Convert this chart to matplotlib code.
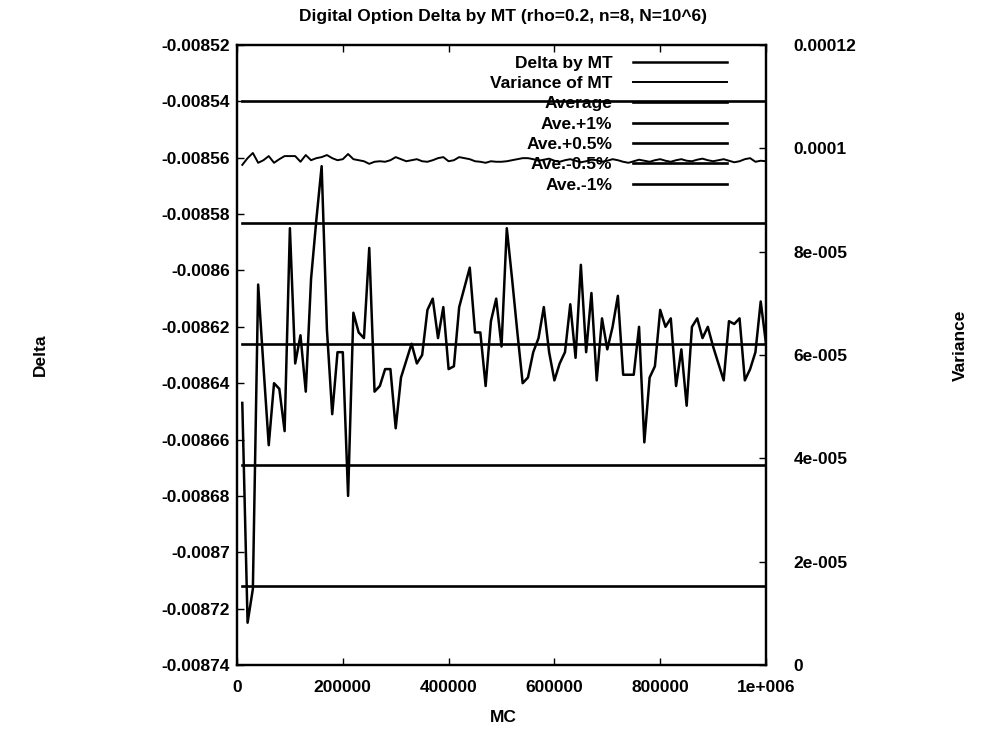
import numpy as np
import matplotlib
matplotlib.use('Agg')
import matplotlib.pyplot as plt

plt.rcParams['font.family'] = ['Liberation Sans', 'DejaVu Sans']
plt.rcParams['font.weight'] = 'bold'

# MC sample counts (every 10000 paths)
mc = np.arange(1, 101) * 10000

# Delta estimate
delta = [
    -0.008647, -0.008725, -0.008713, -0.008605, -0.008634, -0.008662, -0.008640, -0.008642, -0.008657, -0.008585,
    -0.008633, -0.008623, -0.008643, -0.008603, -0.008582, -0.008563, -0.008621, -0.008651, -0.008629, -0.008629,
    -0.008680, -0.008615, -0.008622, -0.008624, -0.008592, -0.008643, -0.008641, -0.008635, -0.008635, -0.008656,
    -0.008638, -0.008632, -0.008626, -0.008633, -0.008630, -0.008614, -0.008610, -0.008624, -0.008613, -0.008635,
    -0.008634, -0.008613, -0.008606, -0.008599, -0.008622, -0.008622, -0.008641, -0.008618, -0.008610, -0.008627,
    -0.008585, -0.008603, -0.008622, -0.008640, -0.008638, -0.008629, -0.008624, -0.008613, -0.008629, -0.008639,
    -0.008633, -0.008629, -0.008612, -0.008631, -0.008598, -0.008629, -0.008608, -0.008639, -0.008617, -0.008628,
    -0.008620, -0.008609, -0.008637, -0.008637, -0.008637, -0.008620, -0.008661, -0.008638, -0.008634, -0.008614,
    -0.008620, -0.008617, -0.008641, -0.008628, -0.008648, -0.008620, -0.008617, -0.008624, -0.008620, -0.008627,
    -0.008633, -0.008639, -0.008618, -0.008619, -0.008617, -0.008639, -0.008635, -0.008629, -0.008611, -0.008626,
]

# Variance of the MT estimate
variance = [
    9.68e-5, 9.81e-5, 9.91e-5, 9.72e-5, 9.77e-5, 9.85e-5, 9.72e-5, 9.79e-5, 9.85e-5, 9.85e-5,
    9.85e-5, 9.74e-5, 9.87e-5, 9.77e-5, 9.81e-5, 9.83e-5, 9.87e-5, 9.81e-5, 9.77e-5, 9.79e-5,
    9.89e-5, 9.79e-5, 9.77e-5, 9.75e-5, 9.70e-5, 9.74e-5, 9.75e-5, 9.74e-5, 9.77e-5, 9.83e-5,
    9.79e-5, 9.75e-5, 9.77e-5, 9.79e-5, 9.75e-5, 9.74e-5, 9.77e-5, 9.81e-5, 9.83e-5, 9.75e-5,
    9.77e-5, 9.83e-5, 9.81e-5, 9.79e-5, 9.75e-5, 9.74e-5, 9.72e-5, 9.75e-5, 9.74e-5, 9.74e-5,
    9.75e-5, 9.77e-5, 9.79e-5, 9.81e-5, 9.81e-5, 9.79e-5, 9.76e-5, 9.78e-5, 9.80e-5, 9.76e-5,
    9.74e-5, 9.77e-5, 9.79e-5, 9.76e-5, 9.73e-5, 9.75e-5, 9.78e-5, 9.77e-5, 9.74e-5, 9.76e-5,
    9.79e-5, 9.77e-5, 9.74e-5, 9.72e-5, 9.75e-5, 9.78e-5, 9.76e-5, 9.74e-5, 9.77e-5, 9.79e-5,
    9.76e-5, 9.74e-5, 9.77e-5, 9.79e-5, 9.76e-5, 9.75e-5, 9.78e-5, 9.80e-5, 9.77e-5, 9.75e-5,
    9.77e-5, 9.79e-5, 9.76e-5, 9.73e-5, 9.75e-5, 9.79e-5, 9.81e-5, 9.74e-5, 9.76e-5, 9.75e-5,
]

# Reference levels
level_names = ['Average', 'Ave.+1%', 'Ave.+0.5%', 'Ave.-0.5%', 'Ave.-1%']
level_values = [-0.008626, -0.008712, -0.008669, -0.008583, -0.008540]

left_ticks = [-0.00852, -0.00854, -0.00856, -0.00858, -0.0086, -0.00862,
              -0.00864, -0.00866, -0.00868, -0.0087, -0.00872, -0.00874]
left_labels = ['-0.00852', '-0.00854', '-0.00856', '-0.00858', '-0.0086', '-0.00862',
               '-0.00864', '-0.00866', '-0.00868', '-0.0087', '-0.00872', '-0.00874']
right_ticks = [0, 2e-5, 4e-5, 6e-5, 8e-5, 1e-4, 1.2e-4]
right_labels = ['0', '2e-005', '4e-005', '6e-005', '8e-005', '0.0001', '0.00012']
x_ticks = [0, 200000, 400000, 600000, 800000, 1000000]
x_labels = ['0', '200000', '400000', '600000', '800000', '1e+006']

fs = 12.5

fig = plt.figure(figsize=(9.99, 7.29), dpi=100)
ax = fig.add_axes([237 / 999, 1 - 665 / 729, 529 / 999, 620 / 729])
ax2 = ax.twinx()

h_delta, = ax.plot(mc, delta, color='black', lw=1.8, label='Delta by MT')
h_var, = ax2.plot(mc, variance, color='black', lw=1.4, label='Variance of MT')
handles = [h_delta, h_var]
for name, val in zip(level_names, level_values):
    h, = ax.plot([mc[0], mc[-1]], [val, val], color='black', lw=1.9, label=name)
    handles.append(h)

ax.set_xlim(0, 1000000)
ax.set_ylim(-0.00874, -0.00852)
ax2.set_ylim(0, 0.00012)

ax.set_xticks(x_ticks)
ax.set_xticklabels(x_labels, fontsize=fs)
ax.set_yticks(left_ticks)
ax.set_yticklabels(left_labels, fontsize=fs)
ax2.set_yticks(right_ticks)
ax2.set_yticklabels(right_labels, fontsize=fs)

ax.tick_params(axis='x', direction='in', top=True, length=5, width=1, pad=11)
ax.tick_params(axis='y', direction='in', right=False, length=5, width=1, pad=5)
ax2.tick_params(axis='y', direction='in', length=5, width=1, pad=20)
for lab in ax2.get_yticklabels():
    lab.set_horizontalalignment('left')
for a in (ax, ax2):
    for s in a.spines.values():
        s.set_linewidth(1.6)

leg = ax2.legend(handles=handles,
                 labels=[h.get_label() for h in handles],
                 loc='upper right', bbox_to_anchor=(0.926, 0.983),
                 frameon=False, markerfirst=False, fontsize=fs,
                 handlelength=5.4, handletextpad=1.2, labelspacing=0.3,
                 borderpad=0, borderaxespad=0)

fig.text(503 / 999, 1 - 17 / 729, 'Digital Option Delta by MT (rho=0.2, n=8, N=10^6)',
         ha='center', va='center', fontsize=fs)
fig.text(503 / 999, 1 - 718 / 729, 'MC', ha='center', va='center', fontsize=fs)
fig.text(40 / 999, 1 - 355 / 729, 'Delta', ha='center', va='center', rotation=90, fontsize=fs)
fig.text(960 / 999, 1 - 345 / 729, 'Variance', ha='center', va='center', rotation=90, fontsize=fs)

fig.savefig('out.png', dpi=100)
